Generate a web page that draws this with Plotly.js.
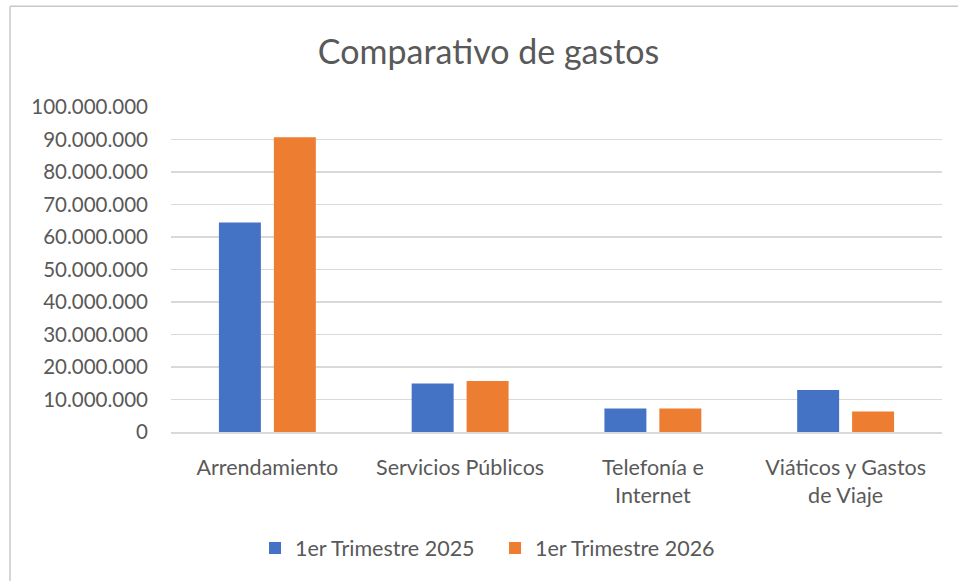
<!DOCTYPE html>
<html>
<head>
<meta charset="utf-8">
<script src="https://cdn.plot.ly/plotly-3.0.1.min.js"></script>
<style>html,body{margin:0;padding:0;background:#fff;}#chart{width:958px;height:581px;}</style>
</head>
<body>
<div id="chart"></div>
<script>
const categories = ["Arrendamiento", "Servicios Públicos", "Telefonía e<br>Internet", "Viáticos y Gastos<br>de Viaje"];
const seriesNames = ["1er Trimestre 2025", "1er Trimestre 2026"];
const values2025 = [64500000, 14900000, 7200000, 12900000];
const values2026 = [90700000, 15700000, 7200000, 6300000];
const colors = ["#4472C4", "#ED7D31"];

const traces = [
  {type: "bar", name: seriesNames[0], x: categories, y: values2025, marker: {color: colors[0]}, hoverinfo: "y"},
  {type: "bar", name: seriesNames[1], x: categories, y: values2026, marker: {color: colors[1]}, hoverinfo: "y"}
];

const fontFam = "Lato, 'Open Sans', sans-serif";
const layout = {
  width: 958, height: 581,
  margin: {l: 171, r: 16, t: 107, b: 149},
  paper_bgcolor: "#fff", plot_bgcolor: "#fff",
  separators: ",.",
  font: {family: fontFam, color: "#595959", size: 20},
  title: {text: "Comparativo de gastos", x: 0.51, xanchor: "center", y: 0.91, yanchor: "middle",
          font: {family: fontFam, size: 34, color: "#595959"}},
  barmode: "group", bargap: 0.43, bargroupgap: 0.236,
  xaxis: {showgrid: false, zeroline: false, showline: true, linecolor: "#d9d9d9", linewidth: 1.5,
          ticks: "", ticklabelstandoff: 16, tickfont: {size: 21.5, color: "#595959"}, fixedrange: true},
  yaxis: {range: [0, 100000000], dtick: 10000000, tickformat: ",d", showgrid: true, gridcolor: "#d9d9d9",
          gridwidth: 1.5, zeroline: false, ticks: "", ticklen: 0, ticklabelstandoff: 22,
          tickfont: {size: 20.5, color: "#595959"}, fixedrange: true},
  showlegend: true,
  legend: {orientation: "h", x: 0.109, xanchor: "left", y: -0.357, yanchor: "middle",
           font: {size: 21.5, color: "#595959"}, itemwidth: 30, entrywidth: 195, entrywidthmode: "pixels",
           traceorder: "normal"},
  shapes: [
    {type: "line", xref: "paper", yref: "paper", x0: -0.2088, x1: 1.03, y0: 1.31, y1: 1.31, line: {color: "#c8c8c8", width: 1.5}},
    {type: "line", xref: "paper", yref: "paper", x0: -0.2088, x1: -0.2088, y0: 1.31, y1: -0.5, line: {color: "#c8c8c8", width: 1.5}}
  ]
};
Plotly.newPlot("chart", traces, layout, {displayModeBar: false, staticPlot: true});
</script>
</body>
</html>
